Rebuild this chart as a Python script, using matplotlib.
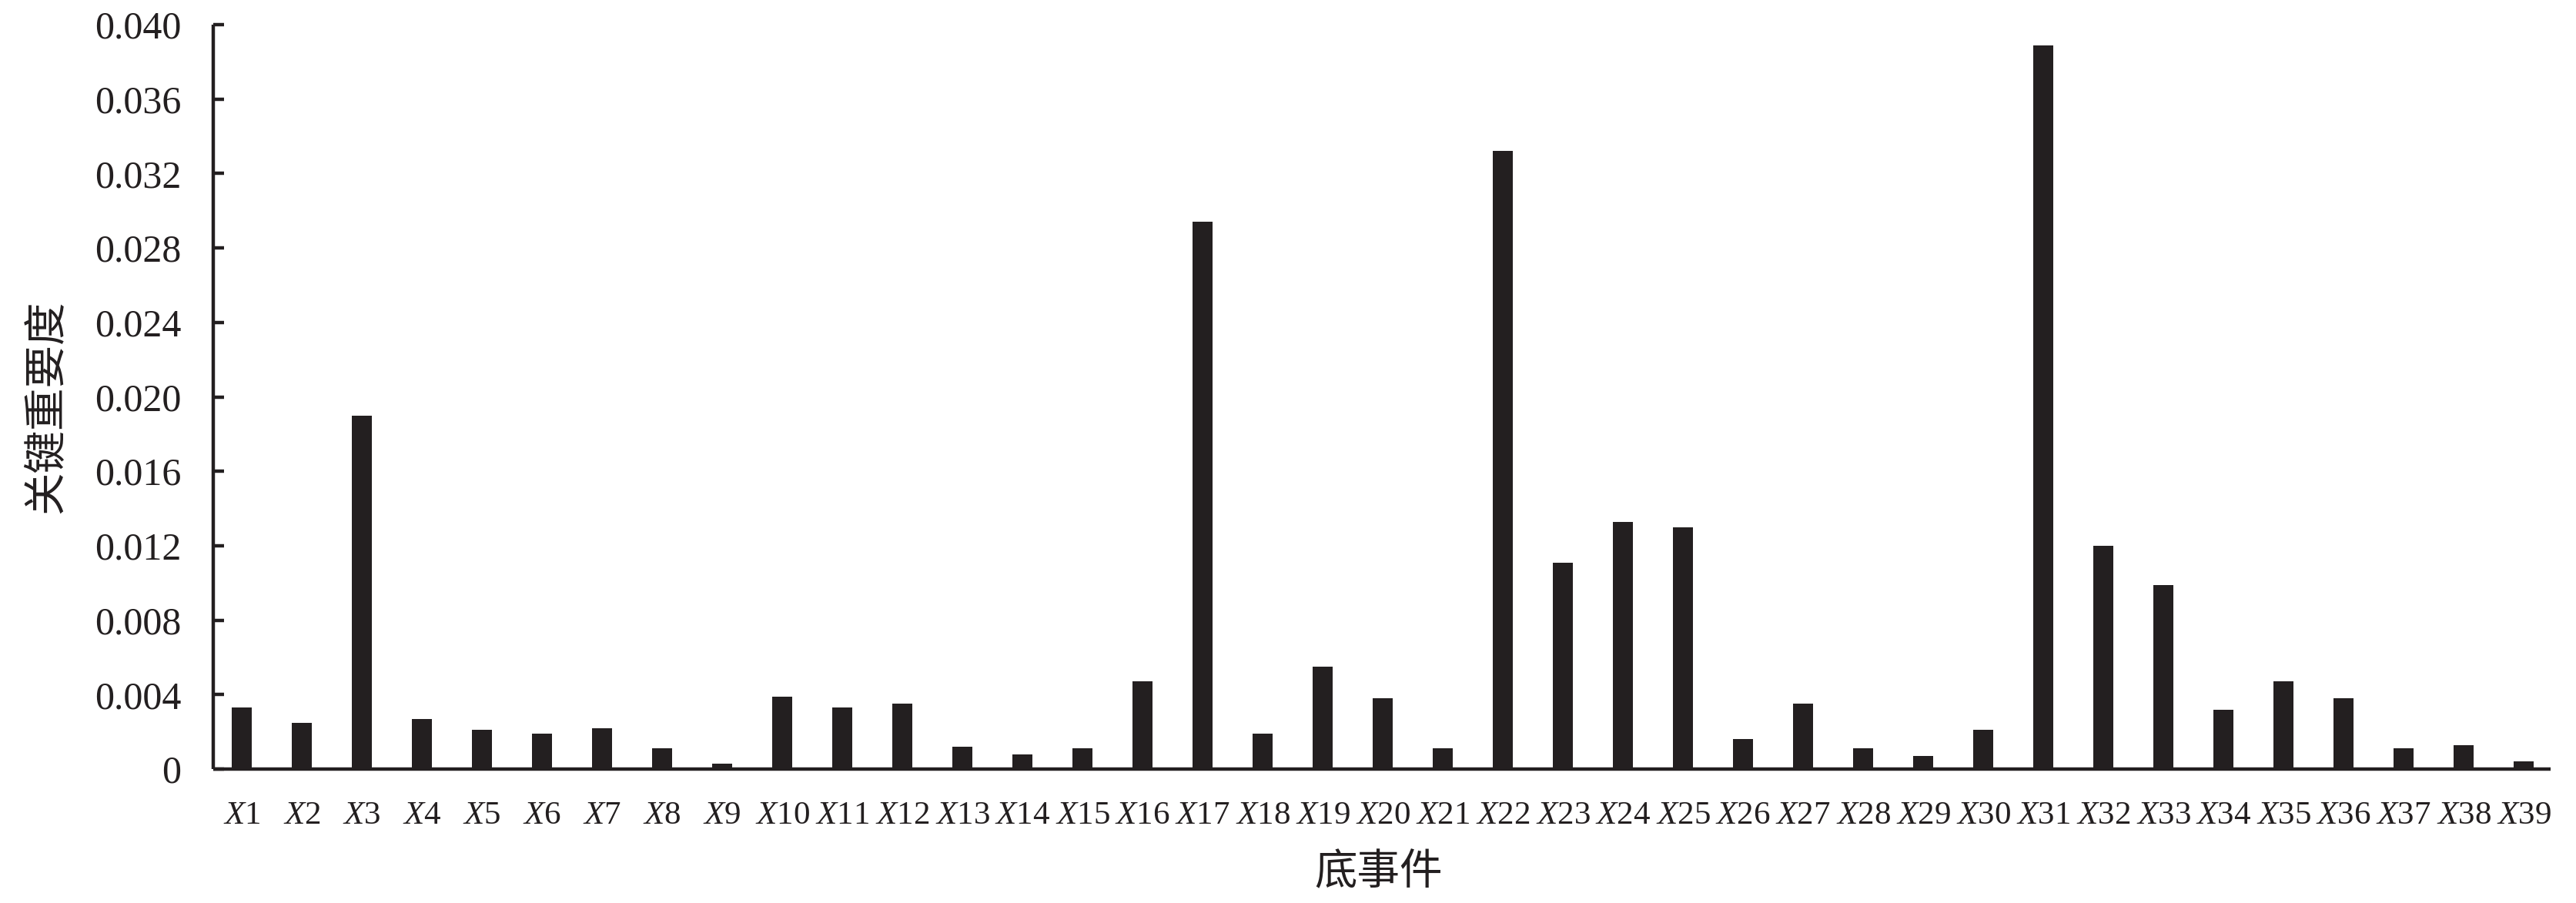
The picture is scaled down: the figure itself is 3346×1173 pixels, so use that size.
import matplotlib
matplotlib.use('Agg')
from matplotlib import pyplot as plt

# Base events and their critical importance values
events = ['X%d' % i for i in range(1, 40)]
importance = [
    0.0033, 0.0025, 0.0190, 0.0027, 0.0021, 0.0019, 0.0022, 0.0011, 0.0003, 0.0039,
    0.0033, 0.0035, 0.0012, 0.0008, 0.0011, 0.0047, 0.0294, 0.0019, 0.0055, 0.0038,
    0.0011, 0.0332, 0.0111, 0.0133, 0.0130, 0.0016, 0.0035, 0.0011, 0.0007, 0.0021,
    0.0389, 0.0120, 0.0099, 0.0032, 0.0047, 0.0038, 0.0011, 0.0013, 0.0004,
]
yticks = [0, 0.004, 0.008, 0.012, 0.016, 0.020, 0.024, 0.028, 0.032, 0.036, 0.040]
ytick_labels = ['0', '0.004', '0.008', '0.012', '0.016', '0.020', '0.024',
                '0.028', '0.032', '0.036', '0.040']

ink = '#231f20'
plt.rcParams['mathtext.fontset'] = 'custom'
plt.rcParams['mathtext.it'] = 'Liberation Serif:italic'
plt.rcParams['mathtext.rm'] = 'Liberation Serif'

fig = plt.figure(figsize=(33.46, 11.73), dpi=100)
ax = fig.add_axes([0.0828, 0.1483, 0.9072, 0.8244])

x = list(range(len(events)))
ax.bar(x, importance, width=0.34, color=ink)

ax.set_xlim(-0.475, 38.44)
ax.set_ylim(0, 0.040)
ax.set_yticks(yticks)
ax.set_yticklabels(ytick_labels, family='Liberation Serif', fontsize=36, color=ink)
ax.set_xticks(x)
ax.set_xticklabels([r'$\mathit{X}$' + e[1:] for e in events],
                   family='Liberation Serif', fontsize=31, color=ink)

for side in ['top', 'right']:
    ax.spines[side].set_visible(False)
for side in ['left', 'bottom']:
    ax.spines[side].set_linewidth(3.2)
    ax.spines[side].set_color(ink)
    ax.spines[side].set_capstyle('butt')

ax.tick_params(axis='y', direction='in', length=10, width=3.2, color=ink, pad=30)
ax.tick_params(axis='x', length=0, pad=30)

fig.text(0.535, 0.034, '底事件', family=['Noto Sans CJK SC', 'DejaVu Sans'],
         fontsize=40, color=ink, ha='center', va='center')
fig.text(0.018, 0.55, '关键重要度', family=['Noto Sans CJK SC', 'DejaVu Sans'],
         fontsize=40, color=ink, ha='center', va='center', rotation=90)

fig.savefig('out.png', dpi=100)
